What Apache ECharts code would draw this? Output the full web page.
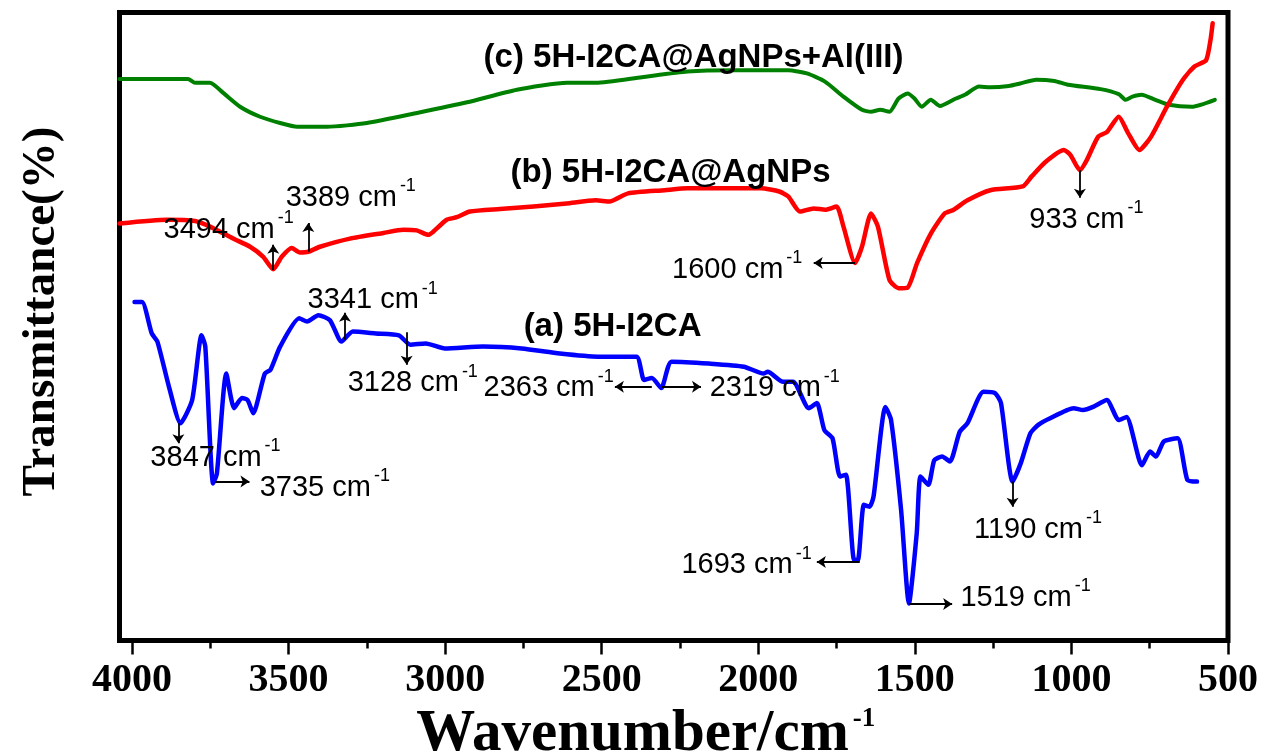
<!DOCTYPE html>
<html><head><meta charset="utf-8">
<script src="https://cdn.jsdelivr.net/npm/echarts@6/dist/echarts.min.js"></script>
<style>html,body{margin:0;padding:0;background:#fff}#c{width:1269px;height:752px}</style>
</head><body><div id="c"></div>
<script>
// ---- tick labels ----
const majorTicks = [500,1000,1500,2000,2500,3000,3500,4000];
const minorTicks = [750,1250,1750,2250,2750,3250,3750];
const xTickLabels = ['500','1000','1500','2000','2500','3000','3500','4000'];

// ---- (a) 5H-I2CA (blue) ----
const waveA = [3992,3968,3937,3919,3882,3845,3808,3778,3766,3741,3729,3699,3674,3649,3631,3613,3576,3558,3527,3466,3441,3405,3368,3331,3295,3221,3148,3111,3062,3001,2879,2756,2634,2512,2389,2365,2340,2310,2277,2158,2046,1983,1970,1921,1889,1839,1813,1789,1763,1739,1720,1694,1682,1663,1645,1632,1594,1576,1544,1519,1494,1482,1457,1438,1413,1388,1357,1332,1281,1244,1225,1188,1162,1131,1107,1068,993,963,931,887,849,824,775,749,730,705,661,630,599];
const transA = [53.9,53.9,48.9,47.6,40.4,34.6,38.3,48.6,46.8,25.0,26.6,42.5,37.0,38.6,38.3,36.2,42.5,43.1,46.8,51.3,50.8,51.8,51.0,47.6,49.2,48.9,48.6,47.1,47.3,46.5,46.8,46.5,45.7,45.2,45.2,41.5,41.8,40.2,44.4,44.1,43.6,42.5,42.8,41.2,41.2,37.0,37.8,33.5,32.2,26.1,26.4,12.8,12.8,21.6,21.3,22.9,37.2,35.1,20.8,5.9,17.1,26.1,24.8,28.7,29.3,28.5,33.2,34.6,39.6,39.4,37.8,25.3,28.2,33.0,34.3,35.4,37.0,36.7,37.2,38.3,35.1,35.6,27.9,30.1,29.3,31.7,32.2,25.6,25.3];

// ---- (b) 5H-I2CA@AgNPs (red) ----
const waveB = [4040,3889,3799,3751,3677,3623,3581,3549,3522,3490,3464,3437,3400,3304,3197,3134,3091,3054,3038,2995,2963,2921,2825,2718,2612,2519,2475,2416,2299,2226,1991,1933,1904,1867,1823,1786,1750,1728,1691,1669,1640,1618,1581,1552,1523,1493,1449,1405,1376,1332,1259,1156,1127,1083,1024,1003,973,951,915,886,849,819,783,746,695,644,607,570,556,549];
const transB = [66.4,67.0,66.8,65.9,64.0,62.7,61.1,59.1,61.1,62.5,61.8,61.9,62.7,64.0,64.9,65.4,65.3,64.6,65.1,67.0,67.4,68.3,68.7,69.1,69.6,70.1,69.9,71.2,71.7,72.0,72.0,71.5,70.7,68.3,68.8,68.6,69.1,65.9,60.1,62.7,68.0,65.9,57.4,56.1,56.2,60.1,64.8,68.0,68.6,70.1,71.7,72.3,73.9,76.2,78.1,77.3,74.9,76.5,80.2,81.0,83.4,80.8,78.1,80.2,85.0,89.3,91.4,92.4,95.6,98.3];

// ---- (c) 5H-I2CA@AgNPs+Al(III) (green) ----
const waveC = [4040,3821,3799,3751,3709,3655,3591,3527,3473,3377,3250,3090,2930,2771,2611,2518,2372,2226,2079,1904,1845,1787,1728,1669,1640,1611,1581,1552,1523,1501,1478,1449,1420,1369,1340,1295,1259,1200,1164,1113,1054,1011,907,849,827,805,776,732,688,615,542];
const transC = [89.4,89.4,88.8,88.8,87.2,85.0,83.4,82.4,81.8,81.8,82.4,84.0,85.7,87.7,88.8,88.8,89.7,90.6,90.8,90.8,90.3,89.0,86.6,84.5,84.2,84.5,84.2,86.3,87.1,86.3,85.0,86.1,85.1,86.3,86.9,88.2,88.1,88.3,88.7,89.3,89.1,88.5,87.8,87.0,86.1,86.6,86.9,86.1,85.3,85.0,86.1];

// ---- curve labels ----
const curveLabels = ['(a) 5H-I2CA','(b) 5H-I2CA@AgNPs','(c) 5H-I2CA@AgNPs+Al(III)'];
const curveLabelX = [2751,2793,2879];
const curveLabelY = [49.9,74.4,92.7];

// ---- peak annotations (text anchor = left / baseline, in data units) ----
const annText = ['3494 cm','3389 cm','3341 cm','3128 cm','2363 cm','2319 cm','3847 cm','3735 cm','1693 cm','1519 cm','1190 cm','1600 cm','933 cm'];
const annX = [3901,3511,3441,3313,2879,2157,3943,3594,2247,1356,1313,2277,1136];
const annY = [63.8,68.9,52.6,39.4,38.6,38.6,27.5,22.7,10.4,5.2,16.0,57.4,65.4];
const arrowFrom = [[3549,59.0],[3437,61.9],[3320,47.9],[3123,49.1],[2340,40.4],[2308,40.4],[3852,34.6],[3735,25.3],[1676,12.5],[1519,5.8],[1188,25.3],[1691,60.1],[973,74.9]];
const arrowTo   = [[3549,63.0],[3437,66.5],[3320,52.2],[3123,43.9],[2458,40.4],[2183,40.4],[3852,31.4],[3625,25.3],[1813,12.5],[1381,5.8],[1188,21.3],[1823,60.1],[973,70.5]];

const serif = "'Liberation Serif','Times New Roman',serif";
const sans = "'Liberation Sans',Arial,sans-serif";
const pairs = (w, t) => w.map((v, i) => [v, t[i]]);

const chart = echarts.init(document.getElementById('c'), null, {renderer: 'canvas'});
const lineSeries = (name, w, t, color, width) => ({
  name, type: 'line', data: pairs(w, t), showSymbol: false, symbol: 'none', smooth: 0.2,
  lineStyle: {color, width, join: 'round', cap: 'round'}, silent: true, emphasis: {disabled: true}, z: 2
});

const option = {
  animation: false,
  backgroundColor: '#fff',
  grid: {left: 119.5, right: 41, top: 12.5, bottom: 111.5, show: true, borderColor: '#000', borderWidth: 5,
    backgroundColor: 'transparent', containLabel: false, outerBoundsMode: 'none'},
  xAxis: [{
    type: 'value', min: 500, max: 4040, inverse: true, interval: 500, position: 'bottom',
    axisLine: {show: false}, splitLine: {show: false},
    axisTick: {show: true, inside: false, length: 14, customValues: majorTicks, lineStyle: {color: '#000', width: 2.5}},
    axisLabel: {show: true, margin: 20, customValues: majorTicks,
      formatter: v => { const k = majorTicks.indexOf(v); return k >= 0 ? xTickLabels[k] : ''; },
      color: '#000', fontFamily: serif, fontWeight: 'bold', fontSize: 40},
    name: '{w|Wavenumber/cm}{s|-1}', nameLocation: 'middle', nameGap: 60,
    nameTextStyle: {color: '#000', padding: [0, 56, 0, 0], rich: {
      w: {fontSize: 59, fontWeight: 'bold', fontFamily: serif, color: '#000', verticalAlign: 'bottom'},
      s: {fontSize: 27, fontWeight: 'bold', fontFamily: serif, color: '#000', verticalAlign: 'top', padding: [0, 0, 0, 4]}
    }}
  }, {
    type: 'value', min: 500, max: 4040, inverse: true, interval: 500, position: 'bottom',
    axisLine: {show: false}, splitLine: {show: false}, axisLabel: {show: false},
    axisTick: {show: true, inside: false, length: 8, customValues: minorTicks, lineStyle: {color: '#000', width: 2.5}}
  }],
  yAxis: {
    type: 'value', min: 0, max: 100,
    axisLine: {show: false}, axisTick: {show: false}, axisLabel: {show: false}, splitLine: {show: false},
    name: 'Transmittance(%)', nameLocation: 'middle', nameRotate: 90, nameGap: 54,
    nameTextStyle: {fontSize: 47, fontWeight: 'bold', fontFamily: serif, color: '#000', padding: [0, 0, 0, 30]}
  },
  series: [
    lineSeries('(c)', waveC, transC, '#008000', 4),
    lineSeries('(b)', waveB, transB, '#ff0000', 4.5),
    lineSeries('(a)', waveA, transA, '#0000ff', 4.5),
    {
      type: 'scatter', name: 'curveLabels', silent: true, emphasis: {disabled: true},
      data: curveLabels.map((t, i) => ({name: t, value: [curveLabelX[i], curveLabelY[i]]})),
      symbolSize: 1, itemStyle: {color: 'rgba(0,0,0,0)'},
      label: {show: true, position: 'right', distance: 0, formatter: '{b}', fontFamily: sans, fontWeight: 'bold', fontSize: 33, color: '#000', opacity: 1},
      z: 5
    },
    {
      type: 'scatter', name: 'annotations', silent: true, emphasis: {disabled: true},
      data: annText.map((t, i) => ({name: t, value: [annX[i], annY[i]]})),
      symbolSize: 1, itemStyle: {color: 'rgba(0,0,0,0)'},
      label: {show: true, position: 'right', distance: 0, offset: [0, -13], color: '#000', opacity: 1,
        formatter: p => '{n|' + p.name + '}{s|-1}',
        rich: {
          n: {fontSize: 29, fontFamily: sans, color: '#000', verticalAlign: 'bottom'},
          s: {fontSize: 18, fontFamily: sans, color: '#000', verticalAlign: 'bottom', padding: [0, 0, 17, 3]}
        }},
      markLine: {
        silent: true, animation: false, symbol: ['none', 'arrow'], symbolSize: 9,
        label: {show: false}, emphasis: {disabled: true},
        lineStyle: {color: '#000', width: 1.8, type: 'solid'},
        data: arrowFrom.map((f, i) => [{coord: f}, {coord: arrowTo[i]}])
      },
      z: 5
    }
  ]
};
chart.setOption(option);
</script>
</body></html>
